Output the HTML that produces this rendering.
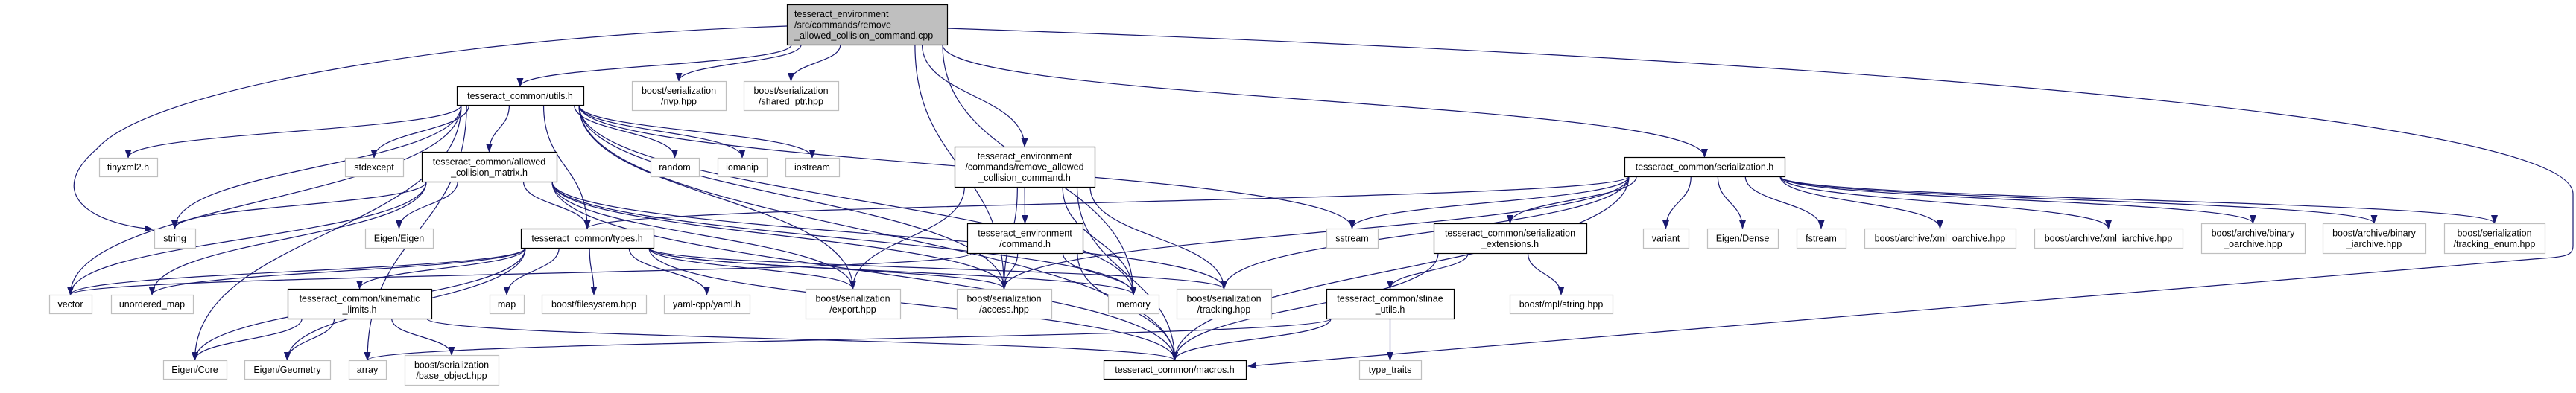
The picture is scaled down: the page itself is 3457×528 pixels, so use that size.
<!DOCTYPE html>
<html><head><meta charset="utf-8"><style>
html,body{margin:0;padding:0;background:#fff;}
svg{display:block;}
text{font-family:"Liberation Sans",sans-serif;font-size:12.5px;fill:#000;}
</style></head><body>
<svg id="s" width="3457" height="528" viewBox="0 0 3457 528" xmlns="http://www.w3.org/2000/svg">
<defs><marker id="a" markerWidth="12" markerHeight="9" refX="11" refY="4.5" orient="auto" markerUnits="userSpaceOnUse"><path d="M0,0 L12,4.5 L0,9 z" fill="#191970"/></marker></defs>
<g id="e" fill="none" stroke="#191970" stroke-width="1.2"></g>
<g id="n"></g>
</svg>
<script>
var N={
main:[1056,6,1271,60,["tesseract_environment","/src/commands/remove","_allowed_collision_command.cpp"],2],
utils:[613,116,783,141,["tesseract_common/utils.h"],1],
nvp:[848,109,974,148,["boost/serialization","/nvp.hpp"],0],
shared:[998,109,1125,148,["boost/serialization","/shared_ptr.hpp"],0],
tinyxml:[133,212,211,237,["tinyxml2.h"],0],
stdexcept:[463,212,541,237,["stdexcept"],0],
ACM:[566,204,747,244,["tesseract_common/allowed","_collision_matrix.h"],1],
random:[873,212,938,237,["random"],0],
iomanip:[963,212,1029,237,["iomanip"],0],
iostream:[1054,212,1126,237,["iostream"],0],
remH:[1281,197,1469,251,["tesseract_environment","/commands/remove_allowed","_collision_command.h"],1],
serH:[2180,211,2395,237,["tesseract_common/serialization.h"],1],
string:[207,307,262,333,["string"],0],
EE:[490,307,581,333,["Eigen/Eigen"],0],
types:[699,307,877,333,["tesseract_common/types.h"],1],
sstream:[1780,307,1849,333,["sstream"],0],
command:[1298,300,1453,340,["tesseract_environment","/command.h"],1],
serExt:[1924,300,2129,340,["tesseract_common/serialization","_extensions.h"],1],
variant:[2205,307,2266,333,["variant"],0],
dense:[2291,307,2386,333,["Eigen/Dense"],0],
fstream:[2411,307,2477,333,["fstream"],0],
xmlo:[2502,307,2705,333,["boost/archive/xml_oarchive.hpp"],0],
xmli:[2730,307,2929,333,["boost/archive/xml_iarchive.hpp"],0],
bino:[2954,300,3093,340,["boost/archive/binary","_oarchive.hpp"],0],
bini:[3117,300,3255,340,["boost/archive/binary","_iarchive.hpp"],0],
tenum:[3280,300,3415,340,["boost/serialization","/tracking_enum.hpp"],0],
vector:[66,396,123,421,["vector"],0],
umap:[149,396,259,421,["unordered_map"],0],
kin:[386,388,579,428,["tesseract_common/kinematic","_limits.h"],1],
map:[657,396,703,421,["map"],0],
fs:[727,396,867,421,["boost/filesystem.hpp"],0],
yaml:[891,396,1006,421,["yaml-cpp/yaml.h"],0],
exp:[1081,388,1208,428,["boost/serialization","/export.hpp"],0],
acc:[1284,388,1411,428,["boost/serialization","/access.hpp"],0],
mem:[1487,396,1555,421,["memory"],0],
trk:[1579,388,1706,428,["boost/serialization","/tracking.hpp"],0],
sfinae:[1780,388,1951,428,["tesseract_common/sfinae","_utils.h"],1],
mpl:[2026,396,2164,421,["boost/mpl/string.hpp"],0],
core:[219,484,304,509,["Eigen/Core"],0],
geom:[328,484,443,509,["Eigen/Geometry"],0],
arr:[468,484,518,509,["array"],0],
base:[543,477,669,517,["boost/serialization","/base_object.hpp"],0],
macros:[1481,484,1672,509,["tesseract_common/macros.h"],1],
tt:[1824,484,1907,509,["type_traits"],0]
};
var E={
main:["utils","nvp","shared","acc","remH","mem","serH"],
utils:["tinyxml","stdexcept","ACM","types","string","vector","random","iomanip","iostream","sstream","mem","acc","exp","macros","core","arr"],
ACM:["string","umap","EE","types","vector","mem","acc","exp","trk","macros"],
types:["vector","umap","map","fs","yaml","exp","acc","mem","trk","macros","kin","core","geom"],
kin:["core","geom","base","macros"],
remH:["command","exp","acc","mem","trk","macros"],
command:["vector","acc","mem","macros"],
serH:["types","sstream","serExt","variant","dense","fstream","xmlo","xmli","bino","bini","tenum","trk","macros","acc"],
serExt:["sfinae","mpl","macros"],
sfinae:["arr","macros","tt"]
};
var ns="http://www.w3.org/2000/svg",eg=document.getElementById("e"),ng=document.getElementById("n");
function P(d){var p=document.createElementNS(ns,"path");p.setAttribute("d",d);p.setAttribute("marker-end","url(#a)");eg.appendChild(p);}
for(var f in E){var s=N[f];E[f].forEach(function(t){var d=N[t];
 var tx=(d[0]+d[2])/2,ty=d[1];
 var scx=(s[0]+s[2])/2;var sx=scx+(tx-scx)*0.35;sx=Math.max(s[0]+6,Math.min(s[2]-6,sx));var sy=s[3];
 if(ty<=sy){
   if(tx<scx){sx=s[0];sy=(s[1]+s[3])/2;tx=d[2];ty=(d[1]+d[3])/2;}else{sx=s[2];sy=(s[1]+s[3])/2;tx=d[0];ty=(d[1]+d[3])/2;}
   P("M"+sx+","+sy+" L"+tx+","+ty);return;}
 var my=(sy+ty)/2;
 P("M"+sx+","+sy+" C"+sx+","+my+" "+tx+","+my+" "+tx+","+ty);
});}
P("M1056,35 C600,50 200,120 130,200 C60,260 120,300 205,308");
P("M1271,38 C2500,80 3450,160 3453,260 L3453,330 C3453,345 3440,345 3400,348 L1675,492");
for(var k in N){var b=N[k];var r=document.createElementNS(ns,"rect");
 r.setAttribute("x",b[0]+0.5);r.setAttribute("y",b[1]+0.5);r.setAttribute("width",b[2]-b[0]);r.setAttribute("height",b[3]-b[1]);
 r.setAttribute("fill",b[5]==2?"#bfbfbf":"#fff");r.setAttribute("stroke",b[5]?"#000":"#bfbfbf");r.setAttribute("stroke-width","1.2");ng.appendChild(r);
 var L=b[4],cy=(b[1]+b[3])/2,h=14.5,y0=cy-(L.length-1)*h/2+4.5;
 L.forEach(function(l,i){var t=document.createElementNS(ns,"text");
  if(b[5]==2){t.setAttribute("x",b[0]+10);}else{t.setAttribute("x",(b[0]+b[2])/2);t.setAttribute("text-anchor","middle");}
  t.setAttribute("y",y0+i*h);t.textContent=l;ng.appendChild(t);});
}
</script>
</body></html>
